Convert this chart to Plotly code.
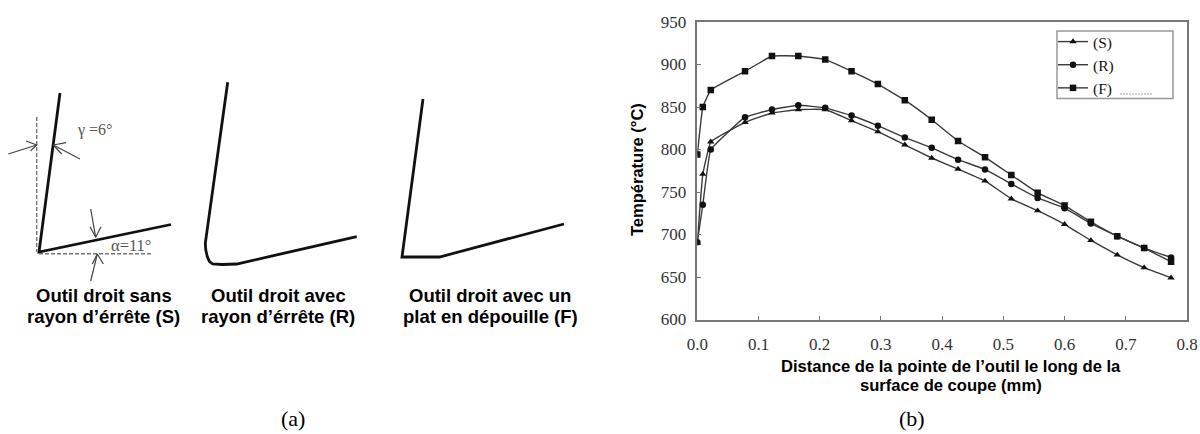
import plotly.graph_objects as go

W, H = 1200, 434

# chart data
x_mm = [0.0, 0.009, 0.022, 0.078, 0.122, 0.165, 0.209, 0.252, 0.295, 0.339, 0.383,
        0.426, 0.47, 0.513, 0.556, 0.6, 0.643, 0.686, 0.73, 0.774]
temp_s = [690, 771, 809, 832, 843, 847, 847, 834, 821, 805.5, 790,
          777, 763, 742, 728, 712, 693, 676, 661, 649]
temp_r = [691, 735, 800, 838, 847, 852, 849, 840, 828, 814, 802,
          788, 776.5, 759.5, 743, 731, 713, 698, 684, 673]
temp_f = [794, 850, 870, 892, 910, 910, 906, 892, 877, 858, 835,
          810, 791, 770, 749, 734, 715, 698, 684, 668]
y_ticks = [600, 650, 700, 750, 800, 850, 900, 950]
x_ticks = [0.0, 0.1, 0.2, 0.3, 0.4, 0.5, 0.6, 0.7, 0.8]

# tool profiles, on a sheet measured in window pixels
tool_s = ([60, 39, 171], [93, 252, 224.5])
tool_r = ([227.7, 205.3, 205.8, 207.3, 209.5, 212.7, 222, 236.7, 356.7],
          [82.3, 243.3, 250, 256.7, 261.5, 264, 264.5, 264, 236.7])
tool_f = ([423, 402, 439.5, 564], [99, 257, 257, 224])
guide_x = [36.7, 36.7, None, 39, 152]
guide_y = [117, 252, None, 253.7, 253.7]
arrow_x = [8.3, 36.7, None, 26, 36.7, 30.7, None,
           80, 53.3, None, 66, 53.3, 61.7, None,
           90.7, 95.7, None, 90, 95.7, 101, None,
           90.7, 97.3, None, 92.3, 97.3, 103.3]
arrow_y = [154, 145, None, 141, 145, 150.7, None,
           159, 145, None, 142.7, 145, 154, None,
           209, 237.3, None, 226.7, 237.3, 226.7, None,
           281, 254, None, 264, 254, 264]
legend_rule_x = [1120, 1153]
legend_rule_y = [94, 94]

fig = go.Figure()

for name, vals, sym in [("(S)", temp_s, "triangle-up"),
                        ("(R)", temp_r, "circle"),
                        ("(F)", temp_f, "square")]:
    fig.add_trace(go.Scatter(x=x_mm, y=vals, name=name, mode="lines+markers",
                             line=dict(color="#3a3a3a", width=1.4, shape="spline", smoothing=0.25),
                             marker=dict(symbol=sym, size=6.5, color="#111111")))

for (xs, ys) in [tool_s, tool_r, tool_f]:
    fig.add_trace(go.Scatter(x=xs, y=ys, xaxis="x2", yaxis="y2", mode="lines", showlegend=False,
                             line=dict(color="#111111", width=2.8), hoverinfo="skip"))
fig.add_trace(go.Scatter(x=guide_x, y=guide_y, xaxis="x2", yaxis="y2", mode="lines", showlegend=False,
                         line=dict(color="#777777", width=1.4, dash="4px,2px"), hoverinfo="skip"))
fig.add_trace(go.Scatter(x=arrow_x, y=arrow_y, xaxis="x2", yaxis="y2", mode="lines", showlegend=False,
                         line=dict(color="#444444", width=1.2), hoverinfo="skip"))
fig.add_trace(go.Scatter(x=legend_rule_x, y=legend_rule_y, xaxis="x2", yaxis="y2", mode="lines", showlegend=False,
                         line=dict(color="#aaaaaa", width=1, dash="2px,1px"), hoverinfo="skip"))

def label(x, y, text, size=14, family="Liberation Sans", color="#000000", angle=0, bold=False):
    return dict(x=x, y=y, xref="x2", yref="y2", text=f"<b>{text}</b>" if bold else text,
                showarrow=False, textangle=angle,
                font=dict(size=size, family=family, color=color), xanchor="center", yanchor="middle")

anns = [
    label(103.5, 295, "Outil droit sans", size=18.5, bold=True),
    label(103.5, 316.5, "rayon d’érrête (S)", size=18.5, bold=True),
    label(278, 295, "Outil droit avec", size=18.5, bold=True),
    label(278, 316.5, "rayon d’érrête (R)", size=18.5, bold=True),
    label(490, 295, "Outil droit avec un", size=18.5, bold=True),
    label(490, 316.5, "plat en dépouille (F)", size=18.5, bold=True),
    label(94.5, 130, "γ =6°", size=16, family="Liberation Serif", color="#555555"),
    label(130.5, 245, "α=11°", size=16.5, family="Liberation Serif", color="#555555"),
    label(293, 418.5, "(a)", size=22, family="Liberation Serif"),
    label(912, 418.5, "(b)", size=22, family="Liberation Serif"),
    label(637, 170, "Température (°C)", size=16.5, angle=-90, bold=True),
    label(951, 366, "Distance de la pointe de l’outil le long de la", size=16.6, bold=True),
    label(951, 385, "surface de coupe (mm)", size=16.6, bold=True),
]

L, R, T, B = 697.3, 1187, 22, 319.5
axis_common = dict(showgrid=False, zeroline=False, showline=True, linecolor="#777777", linewidth=1.5,
                   mirror=True, ticks="inside", ticklen=4, tickcolor="#777777", automargin=False,
                   tickfont=dict(family="Liberation Serif", size=17, color="#333333"))
fig.update_layout(
    width=W, height=H, autosize=False, margin=dict(l=0, r=0, t=0, b=0),
    paper_bgcolor="white", plot_bgcolor="rgba(0,0,0,0)",
    xaxis=dict(domain=[L / W, R / W], range=[0, 0.8], tickvals=x_ticks, tickformat=".1f",
               ticklabelstandoff=8, **axis_common),
    yaxis=dict(domain=[(H - B) / H, (H - T) / H], range=[600, 950], tickvals=y_ticks,
               ticklabelstandoff=6, **axis_common),
    xaxis2=dict(domain=[0, 1], range=[0, W], visible=False, anchor="y2", automargin=False),
    yaxis2=dict(domain=[0, 1], range=[H, 0], visible=False, anchor="x2", automargin=False),
    legend=dict(x=1053 / W, y=(H - 25) / H, xanchor="left", yanchor="top",
                bgcolor="rgba(0,0,0,0)", itemwidth=30, tracegroupgap=0,
                font=dict(family="Liberation Serif", size=15.5, color="#111111")),
    shapes=[dict(type="rect", xref="x2", yref="y2", x0=1057, x1=1173, y0=31, y1=98.5,
                 line=dict(color="#999999", width=1.5), fillcolor="rgba(0,0,0,0)", layer="above")],
    annotations=anns,
    showlegend=True,
)
fig.write_html("out.html", post_script="document.body.style.margin='0';",
               config={"displayModeBar": False})
